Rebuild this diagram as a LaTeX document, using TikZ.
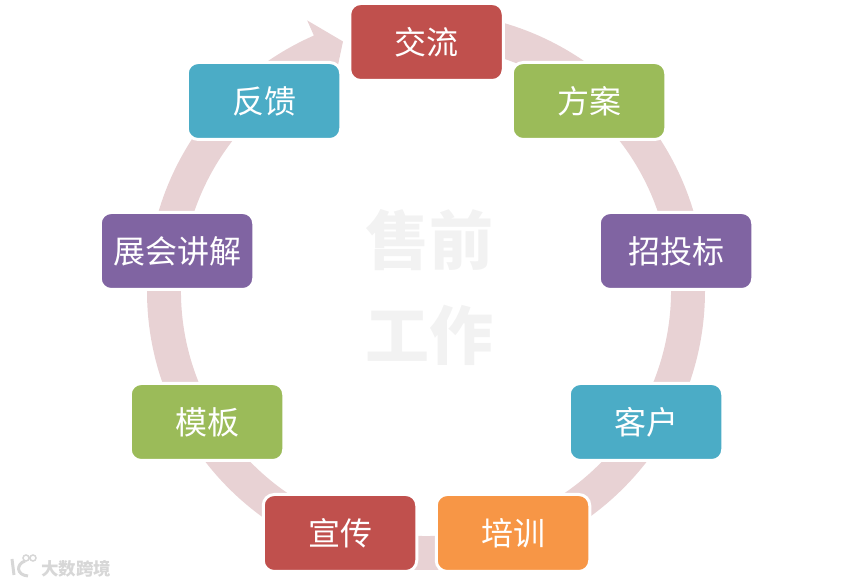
\documentclass[tikz,border=0pt]{standalone}
\usepackage{fontspec}
\setmainfont{Noto Sans CJK SC}
\usepackage{tikz}
\usetikzlibrary{calc}
\definecolor{stepred}{RGB}{192,80,77}
\definecolor{stepgreen}{RGB}{155,187,89}
\definecolor{steppurple}{RGB}{128,100,162}
\definecolor{stepteal}{RGB}{75,172,198}
\definecolor{steporange}{RGB}{247,150,70}
\definecolor{ringcolor}{RGB}{232,210,212}
\definecolor{centercolor}{RGB}{242,242,242}
\definecolor{markcolor}{RGB}{215,215,215}
\tikzset{
  stepbox/.style={draw=white, line width=3pt, rounded corners=11pt,
                  minimum width=153.5pt, minimum height=77pt, inner sep=0pt,
                  text=white, font=\fontsize{32}{32}\selectfont},
  centertext/.style={centercolor, font=\fontsize{64}{64}\selectfont\bfseries},
  marktext/.style={markcolor, font=\fontsize{17.5}{17.5}\selectfont\bfseries},
}
\begin{document}
\begin{tikzpicture}[x=1pt, y=1pt]
  \useasboundingbox (0,0) rectangle (852,584);

  % Ring with arrow head
  \coordinate (ringc) at (426,293);
  \fill[ringcolor]
    ($(ringc)+(90:279)$) arc[start angle=90, end angle=-246.3, radius=279]
    -- ($(ringc)+(113.7:295.5)$) -- ($(ringc)+(108.4:263)$)
    -- ($(ringc)+(113.7:228)$) -- ($(ringc)+(113.7:245)$)
    arc[start angle=113.7, end angle=450, radius=245] -- cycle;

  % Center title
  \node[centertext] (titlea) at (429,344) {售前};
  \node[centertext] (titleb) at (429,249) {工作};

  % Steps, clockwise from the top
  \node[stepbox, fill=stepred] (talk) at (426.5,542) {交流};
  \node[stepbox, fill=stepgreen] (plan) at (589,483) {方案};
  \node[stepbox, fill=steppurple] (bid) at (676,333) {招投标};
  \node[stepbox, fill=stepteal] (client) at (646,162) {客户};
  \node[stepbox, fill=steporange] (train) at (513,51) {培训};
  \node[stepbox, fill=stepred] (promo) at (340,51) {宣传};
  \node[stepbox, fill=stepgreen] (model) at (207,162) {模板};
  \node[stepbox, fill=steppurple] (expo) at (177,333) {展会讲解};
  \node[stepbox, fill=stepteal] (feedback) at (264,483) {反馈};

  % Watermark
  \node[marktext] (mark) at (76.5,15) {大数跨境};
  \draw[markcolor, line width=3pt] (12,25) -- (14,9)
    (25,23) .. controls (16,20) and (16,9) .. (28,8);
  \draw[markcolor, line width=1.5pt] (26,26) circle (3pt) (33,26) circle (3pt);
\end{tikzpicture}
\end{document}
